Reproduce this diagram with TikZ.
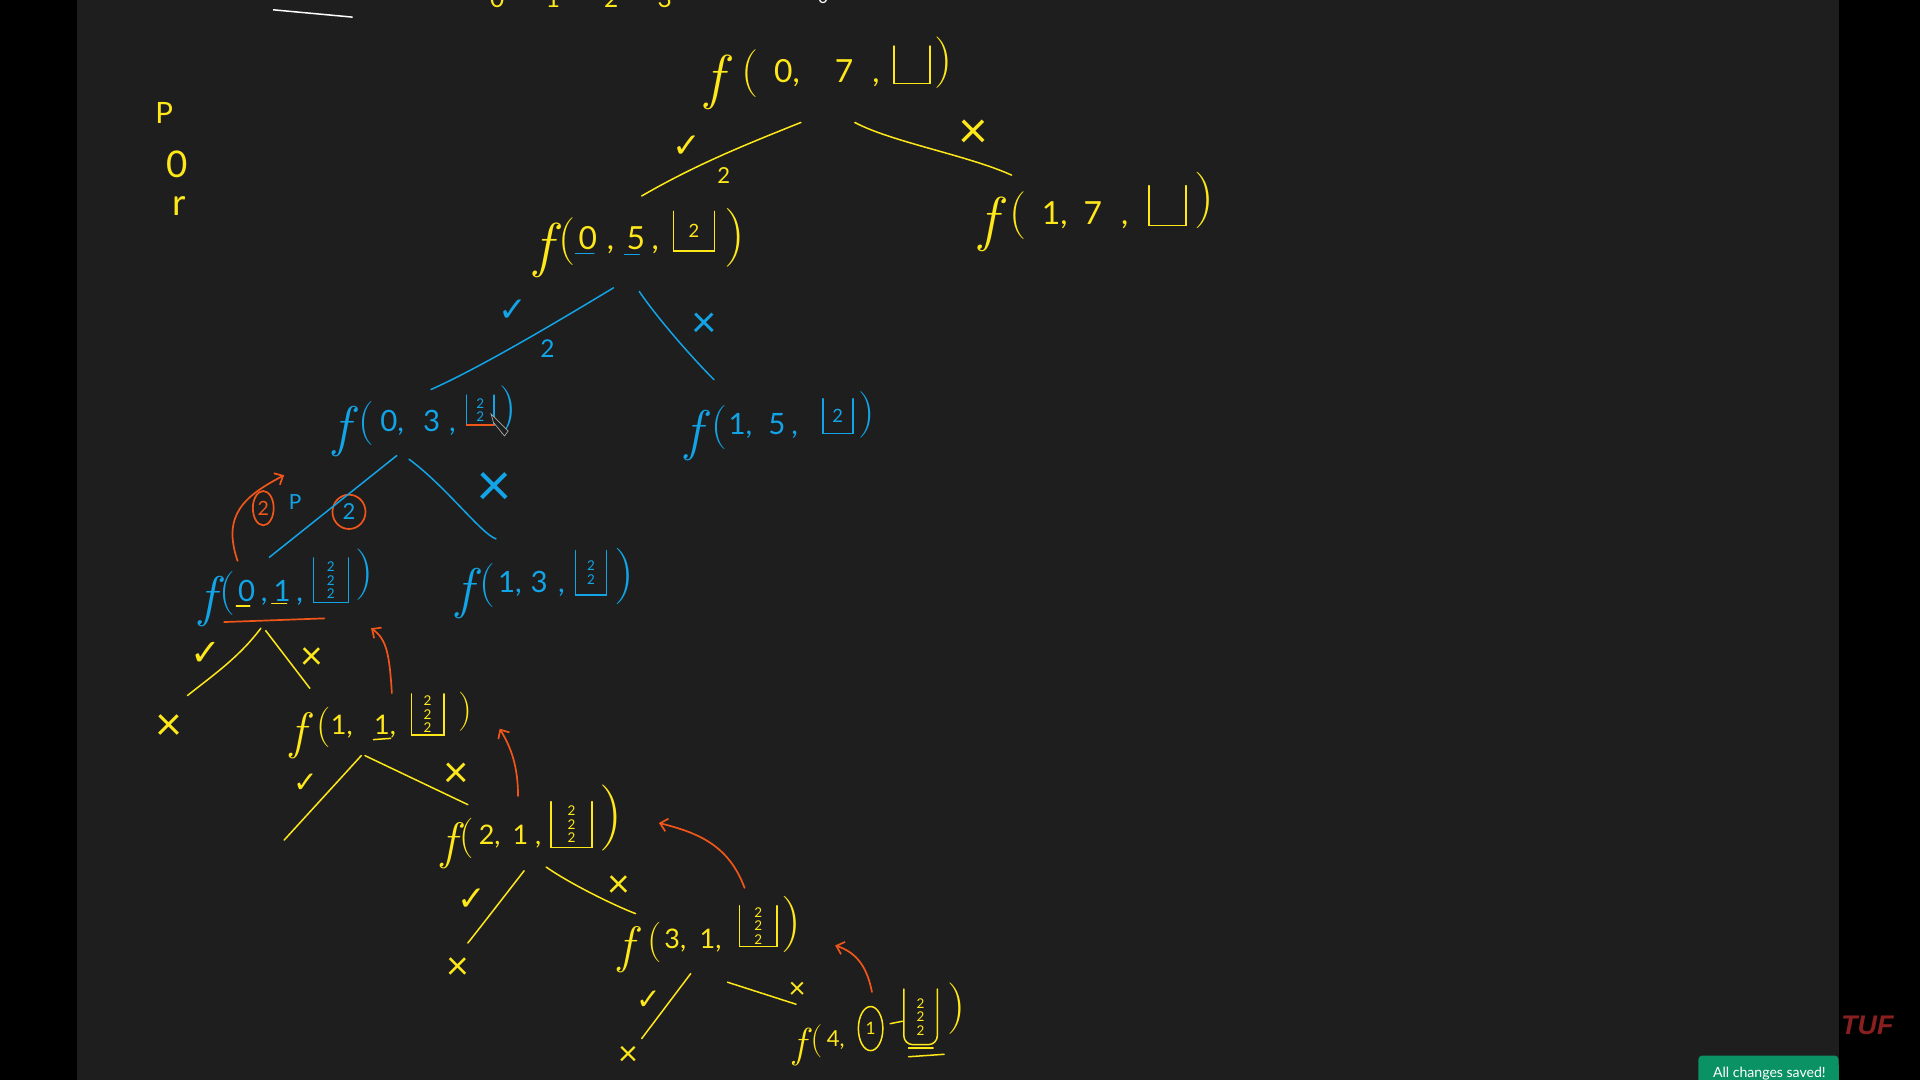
\documentclass[tikz,border=0pt]{standalone}
\usepackage{fontspec}
\usetikzlibrary{arrows.meta,shapes.geometric}
\newfontfamily\handfont{Lato}
\newfontfamily\markfont{DejaVu Sans}
\newfontfamily\tuffont{Liberation Sans}
\definecolor{board}{HTML}{1E1E1E}
\definecolor{inkyellow}{HTML}{FFE81A}
\definecolor{inkblue}{HTML}{12A4E6}
\definecolor{inkorange}{HTML}{F0561A}
\definecolor{tufred}{HTML}{8A1F20}
\definecolor{savedgreen}{HTML}{0A9264}
\newcommand{\fs}[1]{\fontsize{#1}{#1}\selectfont}
\newcommand{\ff}{\raisebox{-.5em}{\scalebox{1.9}{\normalfont\itshape f}}}
\newcommand{\lp}{\raisebox{-.12em}{\scalebox{1.5}{\normalfont(}}}
\newcommand{\openbox}[2]{\draw[#1] (#2.north west) |- (#2.south east) -- (#2.north east);}
\tikzset{
    callnode/.style={anchor=base west, inner sep=0pt, font={\handfont\fs{#1}}},
    parenr/.style={inner sep=0pt, font={\normalfont\fs{#1}}},
    bucket/.style={anchor=south west, inner sep=0pt, font={\handfont\fs{11}}},
    small/.style={inner sep=0pt, font={\handfont\fs{#1}}},
    yestick/.style={inner sep=0pt, font={\markfont\fs{#1}}},
    nocross/.style={inner sep=0pt, font={\handfont\fs{#1}}},
    yline/.style={draw=inkyellow, line width=1.5pt, line cap=round},
    bline/.style={draw=inkblue, line width=1.5pt, line cap=round},
    oline/.style={draw=inkorange, line width=1.7pt, line cap=round},
    backarrow/.style={oline, -{Straight Barb[length=7pt,width=13pt]}},
}
\begin{document}
\begin{tikzpicture}[x=1pt, y=-1pt, scale=1.22449, every node/.append style={transform shape}]
    \useasboundingbox (0,0) rectangle (1568,882);
    \clip (0,0) rectangle (1568,882);
    \fill[black] (0,0) rectangle (1568,882);
    \fill[board] (63,0) rectangle (1501.5,882);

    % top of the board
    \draw[white, line width=1.5pt] (223,8) -- (288,14);
    \node[callnode=20, text=inkyellow] (idx) at (400,6) {0\hspace{1.7em}1\hspace{1.8em}2\hspace{1.6em}3};
    \node[callnode=14, text=white] (idxw) at (668,3) {0};

    % side list
    \node[small=24, text=inkyellow] (lp) at (134,92) {P};
    \node[small=30, text=inkyellow] (lo) at (145,134) {0};
    \node[small=30, text=inkyellow] (lr) at (146,168) {r};

    % root
    \node[callnode=26, text=inkyellow] (r) at (576,67) {\ff\hspace{.55em}\lp\hspace{.5em}0,\hspace{1.1em}7\hspace{.6em},};
    \node[bucket, minimum width=29, minimum height=30] (rb) at (730,68) {};
    \openbox{yline}{rb}
    \node[parenr=42, text=inkyellow] (rp) at (771,51) {)};

    % 0
    \node[callnode=26, text=inkyellow] (r0) at (436,204) {\ff\hspace{.2em}\lp\hspace{.1em}0\hspace{.3em},\hspace{.4em}5\hspace{.2em},};
    \node[bucket, minimum width=33, minimum height=32, text=inkyellow] (r0b) at (550,205) {\fs{15}2};
    \openbox{yline}{r0b}
    \node[parenr=48, text=inkyellow] (r0p) at (600,194) {)};
    \draw[bline] (470,207) -- (485,207);
    \draw[bline] (510,208) -- (522,208);

    % 1
    \node[callnode=26, text=inkyellow] (r1) at (800,183) {\ff\hspace{.35em}\lp\hspace{.5em}1,\hspace{.5em}7\hspace{.6em},};
    \node[bucket, minimum width=30, minimum height=32] (r1b) at (938,184) {};
    \openbox{yline}{r1b}
    \node[parenr=46, text=inkyellow] (r1p) at (984,164) {)};

    % 00
    \node[callnode=24, text=inkblue] (r00) at (272,352) {\ff\hspace{.3em}\lp\hspace{.2em}0,\hspace{.65em}3\hspace{.3em},};
    \node[bucket, minimum width=22, minimum height=24, text=inkblue] (r00b) at (381,347) {\shortstack{2\\2}};
    \openbox{bline}{r00b}
    \node[parenr=40, text=inkblue] (r00p) at (415,335) {)};
    \draw[oline] (r00b.south west) -- (r00b.south east);
    \draw[gray!70!white, fill=board, line width=.7pt] (401,338) -- (415,352) -- (412,356) -- (403,345) -- cycle;

    % 01
    \node[callnode=24, text=inkblue] (r01) at (560,355) {\ff\hspace{.3em}\lp\hspace{.05em}1,\hspace{.55em}5\hspace{.2em},};
    \node[bucket, minimum width=24, minimum height=28, text=inkblue] (r01b) at (672,354) {\fs{15}2};
    \openbox{bline}{r01b}
    \node[parenr=38, text=inkblue] (r01p) at (708,339) {)};

    % 000
    \node[callnode=24, text=inkblue] (r000) at (163,491) {\ff\hspace{.1em}\lp\hspace{.1em}0\hspace{.2em},\hspace{.2em}1\hspace{.2em},};
    \node[bucket, minimum width=28, minimum height=36, text=inkblue] (r000b) at (256,492) {\shortstack{2\\2\\2}};
    \openbox{bline}{r000b}
    \node[parenr=42, text=inkblue] (r000p) at (298,469) {)};
    \draw[oline] (183,508) -- (265,505);
    \draw[yline] (193,495) -- (204,495);
    \draw[yline] (222,493) -- (234,493);

    % 001
    \node[callnode=24, text=inkblue] (r001) at (373,484) {\ff\hspace{.2em}\lp\hspace{.1em}1,\hspace{.3em}3\hspace{.35em},};
    \node[bucket, minimum width=25, minimum height=36, text=inkblue] (r001b) at (470,486) {\shortstack{2\\2}};
    \openbox{bline}{r001b}
    \node[parenr=46, text=inkblue] (r001p) at (510,471) {)};

    % 0001
    \node[callnode=22, text=inkyellow] (r0001) at (237,600) {\ff\hspace{.4em}\lp\hspace{0em}1,\hspace{.8em}1,};
    \node[bucket, minimum width=26, minimum height=33, text=inkyellow] (r0001b) at (336,600) {\shortstack{2\\2\\2}};
    \openbox{yline}{r0001b}
    \node[parenr=32, text=inkyellow] (r0001p) at (380,581) {)};
    \draw[yline] (305,604) -- (319,603);

    % 00011
    \node[callnode=22, text=inkyellow] (r00011) at (360,690) {\ff\hspace{.1em}\lp\hspace{.2em}2,\hspace{.45em}1\hspace{.25em},};
    \node[bucket, minimum width=33, minimum height=37, text=inkyellow] (r00011b) at (450,692) {\shortstack{2\\2\\2}};
    \openbox{yline}{r00011b}
    \node[parenr=54, text=inkyellow] (r00011p) at (499,668) {)};

    % 000111
    \node[callnode=22, text=inkyellow] (r000111) at (505,775) {\ff\hspace{.5em}\lp\hspace{.1em}3,\hspace{.5em}1,};
    \node[bucket, minimum width=30, minimum height=33, text=inkyellow] (r000111b) at (604,773) {\shortstack{2\\2\\2}};
    \openbox{yline}{r000111b}
    \node[parenr=46, text=inkyellow] (r000111p) at (646,755) {)};

    % 0001111
    \node[callnode=18, text=inkyellow] (r0001111) at (648,855) {\ff\hspace{.2em}\lp\hspace{.2em}4,};
    \node[ellipse, draw=inkyellow, line width=1.5pt, inner sep=0pt, minimum width=20, minimum height=36, small=14, text=inkyellow] (one) at (711,840) {1};
    \node[bucket, minimum width=27, minimum height=45, text=inkyellow] (r0001111b) at (738,853) {\shortstack{2\\2\\2}};
    \draw[yline, rounded corners=9pt] (r0001111b.north west) |- (r0001111b.south east) -- (r0001111b.north east);
    \node[parenr=42, text=inkyellow] (r0001111p) at (781,824) {)};
    \draw[yline] (727,836) -- (737,834);
    \draw[yline] (742,856) -- (762,856);
    \draw[yline] (742,863) -- (771,861);

    % marks beside the branches
    \node[yestick=28, text=inkyellow] (t0) at (561,120) {✓};
    \node[small=18, text=inkyellow] (n0) at (591,143) {2};
    \node[nocross=42, text=inkyellow] (x1) at (795,110) {×};
    \node[yestick=28, text=inkblue] (t00) at (419,254) {✓};
    \node[small=20, text=inkblue] (n00) at (447,285) {2};
    \node[nocross=36, text=inkblue] (x01) at (575,266) {×};
    \node[nocross=50, text=inkblue] (x001) at (404,400) {×};
    \node[yestick=30, text=inkyellow] (t000) at (168,534) {✓};
    \node[nocross=38, text=inkyellow] (x0000) at (138,594) {×};
    \node[nocross=32, text=inkyellow] (x0001) at (255,538) {×};
    \node[yestick=24, text=inkyellow] (t0000) at (250,640) {✓};
    \node[nocross=36, text=inkyellow] (x00011) at (373,633) {×};
    \node[yestick=28, text=inkyellow] (t00010) at (385,735) {✓};
    \node[nocross=32, text=inkyellow] (x00010) at (374,791) {×};
    \node[nocross=32, text=inkyellow] (x000111) at (505,724) {×};
    \node[yestick=24, text=inkyellow] (t000110) at (530,817) {✓};
    \node[nocross=28, text=inkyellow] (x000110) at (513,862) {×};
    \node[nocross=24, text=inkyellow] (x0001111) at (651,809) {×};

    % the two circled values
    \node[ellipse, draw=inkorange, line width=1.7pt, inner sep=0pt, minimum width=27, minimum height=28, small=18, text=inkblue] (keep) at (285,418) {2};
    \node[ellipse, draw=inkorange, line width=1.7pt, inner sep=0pt, minimum width=17, minimum height=28, small=16, text=inkorange] (popped) at (215,415) {2};
    \node[small=17, text=inkblue] (pick) at (241,410) {P};

    % branches
    \draw[yline] ([shift={(78,33)}]r.base west) .. controls +(-45,18) and +(45,-26) .. ([shift={(88,-44)}]r0.base west);
    \draw[yline] ([shift={(122,33)}]r.base west) .. controls +(30,16) and +(-35,-16) .. ([shift={(26,-40)}]r1.base west);
    \draw[bline] ([shift={(65,31)}]r0.base west) .. controls +(-30,18) and +(45,-20) .. ([shift={(80,-34)}]r00.base west);
    \draw[bline] ([shift={(86,34)}]r0.base west) .. controls +(15,22) and +(-18,-18) .. ([shift={(23,-45)}]r01.base west);
    \draw[bline] ([shift={(52,20)}]r00.base west) -- ([shift={(57,-36)}]r000.base west);
    \draw[bline] ([shift={(62,23)}]r00.base west) .. controls +(30,22) and +(-12,-4) .. ([shift={(32,-44)}]r001.base west);
    \draw[yline] ([shift={(50,22)}]r000.base west) .. controls +(-18,24) and +(20,-16) .. ([shift={(15,-26)}]x0000.center);
    \draw[yline] ([shift={(54,24)}]r000.base west) -- ([shift={(16,-38)}]r0001.base west);
    \draw[yline] ([shift={(58,17)}]r0001.base west) -- ([shift={(-5,86)}]r0001.base west);
    \draw[yline] ([shift={(61,17)}]r0001.base west) -- ([shift={(22,-33)}]r00011.base west);
    \draw[yline] ([shift={(68,21)}]r00011.base west) .. controls +(-14,18) and +(8,-10) .. ([shift={(8,-21)}]x00010.center);
    \draw[yline] ([shift={(86,18)}]r00011.base west) .. controls +(20,14) and +(-16,-6) .. ([shift={(14,-29)}]r000111.base west);
    \draw[yline] ([shift={(59,20)}]r000111.base west) -- ([shift={(11,-14)}]x000110.center);
    \draw[yline] ([shift={(89,27)}]r000111.base west) -- ([shift={(2,-35)}]r0001111.base west);

    % return arrows
    \coordinate (looptip) at (232,388);
    \coordinate (tipg) at (303,513);
    \coordinate (tiph) at (408,595);
    \coordinate (tipi) at (538,672);
    \coordinate (tipj) at (682,772);
    \draw[backarrow] ([shift={(31,-33)}]r000.base west) .. controls +(-13,-38) and +(-32,17) .. (looptip);
    \draw[backarrow] ([shift={(83,-34)}]r0001.base west) .. controls +(-2,-31) and +(13,9) .. (tipg);
    \draw[backarrow] ([shift={(63,-40)}]r00011.base west) .. controls +(0,-25) and +(9,15) .. (tiph);
    \draw[backarrow] ([shift={(103,-50)}]r000111.base west) .. controls +(-13,-35) and +(32,8) .. (tipi);
    \draw[backarrow] ([shift={(64,-45)}]r0001111.base west) .. controls +(-4,-20) and +(18,6) .. (tipj);

    % screen furniture
    \fill[savedgreen, rounded corners=4pt] (1387,900) |- (1501.5,862) |- cycle;
    \fill[savedgreen] (1400,870) rectangle (1501.5,882);
    \node[small=11.5, text=white] (saved) at (1445,876.5) {All changes saved!};
    \node[inner sep=0pt, text=tufred, font={\tuffont\bfseries\itshape\fs{22}}] (tuf) at (1525,837) {TUF};
\end{tikzpicture}
\end{document}
